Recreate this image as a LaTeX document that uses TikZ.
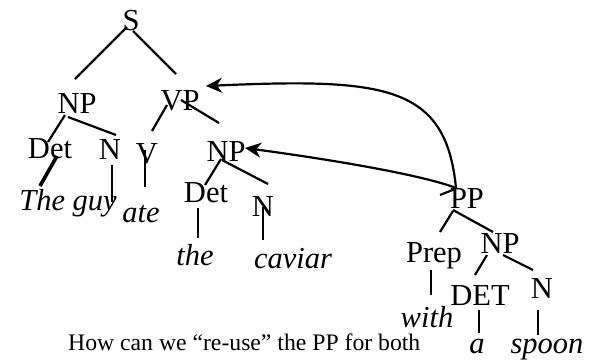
\documentclass[tikz,border=0pt]{standalone}
\usepackage{fontspec}
\setmainfont{Liberation Serif}
\usetikzlibrary{arrows.meta}
\tikzset{
  lbl/.style={anchor=base, inner sep=0pt, font=\fontsize{30.5}{36}\selectfont},
  wrd/.style={anchor=base, inner sep=0pt, font=\fontsize{30.5}{36}\selectfont\itshape},
  captext/.style={anchor=base west, inner sep=0pt, font=\fontsize{23.7}{28}\selectfont},
  tedge/.style={line width=2.2pt},
  thickedge/.style={line width=3.6pt},
  arr/.style={line width=2.2pt, -{Stealth[length=16pt,width=15pt,inset=5pt]}}
}
\begin{document}
\begin{tikzpicture}[x=1pt,y=-1pt]
\useasboundingbox (0,0) rectangle (590,360);
% labels
\node[lbl] (S) at (131,30) {S};
\node[lbl] (np1) at (77,113) {NP};
\node[lbl] (vp) at (180,110) {VP};
\node[lbl] (det1) at (50,158) {Det};
\node[lbl] (n1) at (110,159) {N};
\node[lbl] (v) at (147,163) {V};
\node[lbl] (np2) at (226,161) {NP};
\node[lbl] (det2) at (206,202) {Det};
\node[lbl] (n2) at (263,216) {N};
\node[wrd] (theguy) at (68,210) {The guy};
\node[wrd] (ate) at (141,222) {ate};
\node[wrd] (the) at (195,265) {the};
\node[wrd] (caviar) at (293,268) {caviar};
\node[lbl] (pp) at (467,208) {PP};
\node[lbl] (prep) at (434,262) {Prep};
\node[lbl] (np3) at (500,253) {NP};
\node[lbl] (det3) at (480,305) {DET};
\node[lbl] (n3) at (542,298) {N};
\node[wrd] (with) at (427,327) {with};
\node[wrd] (a) at (477,353) {a};
\node[wrd] (spoon) at (547,353) {spoon};
\node[captext] (caption) at (68,350) {How can we “re-use” the PP for both};
% tree edges
\draw[tedge] ([shift={(-4,-3)}]S.base) -- ([shift={(-2,-34)}]np1.base);
\draw[tedge] ([shift={(2,1)}]S.base) -- ([shift={(-4,-36)}]vp.base);
\draw[tedge] ([shift={(-12,2)}]np1.base) -- ([shift={(-2,-16)}]det1.base);
\draw[tedge] ([shift={(-9,4)}]np1.base) -- ([shift={(6,-24)}]n1.base);
\draw[tedge] ([shift={(-13,-5)}]vp.base) -- ([shift={(5,-32)}]v.base);
\draw[tedge] ([shift={(1,-10)}]vp.base) -- ([shift={(-7,-38)}]np2.base);
\draw[thickedge] ([shift={(7,-2)}]det1.base) -- ([shift={(-28,-24)}]theguy.base);
\draw[tedge] ([shift={(2,6)}]n1.base) -- ([shift={(44,-8)}]theguy.base);
\draw[tedge] ([shift={(-2,-13)}]v.base) -- ([shift={(4,-35)}]ate.base);
\draw[tedge] ([shift={(-5,-2)}]np2.base) -- ([shift={(-1,-17)}]det2.base);
\draw[tedge] ([shift={(-4,-1)}]np2.base) -- ([shift={(5,-32)}]n2.base);
\draw[tedge] ([shift={(-8,6)}]det2.base) -- ([shift={(3,-27)}]the.base);
\draw[tedge] ([shift={(0,-9)}]n2.base) -- ([shift={(-30,-28)}]caviar.base);
\draw[tedge] ([shift={(-14,3)}]pp.base) -- ([shift={(6,-30)}]prep.base);
\draw[tedge] ([shift={(-14,2)}]pp.base) -- ([shift={(-7,-21)}]np3.base);
\draw[tedge] ([shift={(-13,2)}]np3.base) -- ([shift={(-5,-30)}]det3.base);
\draw[tedge] ([shift={(3,2)}]np3.base) -- ([shift={(-9,-28)}]n3.base);
\draw[tedge] ([shift={(-3,8)}]prep.base) -- ([shift={(4,-32)}]with.base);
\draw[tedge] ([shift={(-1,5)}]det3.base) -- ([shift={(2,-20)}]a.base);
\draw[tedge] ([shift={(-4,12)}]n3.base) -- ([shift={(-9,-18)}]spoon.base);
% re-use arrows
\coordinate (pps) at ([shift={(-11,-20)}]pp.base);
\draw[tedge] ([shift={(-27,-13)}]pp.base) -- ([shift={(-12,-19)}]pp.base);
\draw[arr] (pps) .. controls (446,85) and (385,78) .. ([shift={(26,-24)}]vp.base);
\draw[arr] (pps) .. controls (420,174) and (320,158) .. ([shift={(19,-13)}]np2.base);
\end{tikzpicture}
\end{document}
